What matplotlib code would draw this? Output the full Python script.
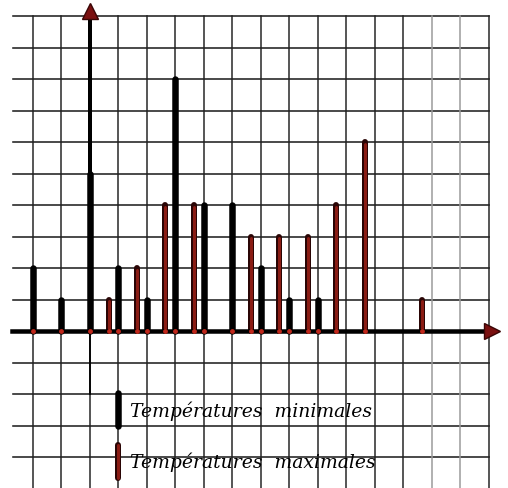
import matplotlib.pyplot as plt

# grid columns for the two series (max bars sit a bit left of the grid line)
min_pos = [0, 1, 2, 3, 4, 5, 6, 7, 8, 9, 10]
t_min = [2, 1, 5, 2, 1, 8, 4, 4, 2, 1, 1]
max_pos = [3, 4, 5, 6, 8, 9, 10, 11, 12, 14]
t_max = [1, 2, 4, 4, 3, 3, 3, 4, 6, 1]
labels = ["Températures  minimales", "Températures  maximales"]

PX = 0.72  # points per pixel at dpi 100
RED = "#8a1c14"
DARK = "#2a0505"

fig = plt.figure(figsize=(5.08, 4.88), dpi=100)
ax = fig.add_axes([0, 0, 1, 1])
ax.set_xlim(-1.158, 16.67)
ax.set_ylim(-4.98, 10.51)
ax.axis("off")

# squared paper
for v in range(-5, 11):
    ax.plot([-0.7, 16], [v, v], color="#222222", lw=1.6 * PX, zorder=1)
for k in range(0, 17):
    c = "#999999" if k in (14, 15) else "#222222"
    ax.plot([k, k], [-5, 10], color=c, lw=1.5 * PX, zorder=1)

# axes
ax.plot([-0.75, 16.0], [0, 0], color="black", lw=4.5 * PX, zorder=4)
ax.plot(16.1, 0, marker=">", ms=11, color="#7a1010", mec="#3a0505", zorder=5)
ax.plot([2, 2], [-2, 10.0], color="black", lw=1.8 * PX, zorder=4)
ax.plot([2, 2], [0, 10.0], color="black", lw=4 * PX, zorder=4)
ax.plot(2, 10.15, marker="^", ms=11, color="#7a1010", mec="#3a0505", zorder=5)

# minimal temperatures
for x, t in zip(min_pos, t_min):
    ax.plot([x, x], [0, t], color="black", lw=6.5 * PX,
            solid_capstyle="round", zorder=3)

# maximal temperatures
off = -0.35
for x, t in zip(max_pos, t_max):
    ax.plot([x + off, x + off], [0, t], color=DARK, lw=6 * PX,
            solid_capstyle="round", zorder=3)
    ax.plot([x + off, x + off], [0, t - 0.05], color=RED, lw=3 * PX,
            solid_capstyle="round", zorder=3)

# small red dots at the feet of the bars
feet = min_pos + [x + off for x in max_pos]
ax.scatter(feet, [0] * len(feet), s=6, color="#c0281c", zorder=6)

# legend
ax.plot([3, 3], [-1.95, -3.0], color="black", lw=6.5 * PX,
        solid_capstyle="round", zorder=3)
ax.plot([3, 3], [-3.6, -4.65], color=DARK, lw=6 * PX,
        solid_capstyle="round", zorder=3)
ax.plot([3, 3], [-3.6, -4.65], color=RED, lw=3 * PX,
        solid_capstyle="round", zorder=3)
ax.text(3.4, -2.55, labels[0], family="DejaVu Serif", style="italic",
        fontsize=13.5, va="center", ha="left", zorder=6)
ax.text(3.4, -4.15, labels[1], family="DejaVu Serif", style="italic",
        fontsize=13.5, va="center", ha="left", zorder=6)

plt.savefig("out.png", dpi=100)
